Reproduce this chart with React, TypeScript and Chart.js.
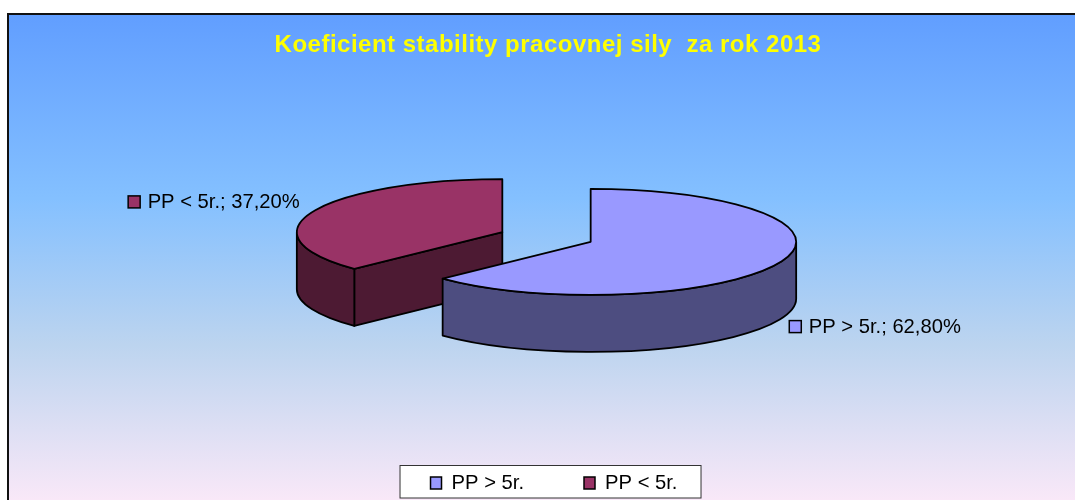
import React, { useEffect, useRef } from "react";
import { Chart, registerables } from "chart.js";

Chart.register(...registerables);

const categories = ["PP > 5r.", "PP < 5r."];
const shares = [62.8, 37.2];
const topColors = ["#9999FF", "#993366"];
const wallColors = ["#4D4D80", "#4D1A33"];
const titleText = "Koeficient stability pracovnej sily  za rok 2013";

const FONT = "'Liberation Sans', Arial, sans-serif";
const TILT = 0.258;
const DEPTH = 57;
const EXPLODE = 48;
const OUTLINE = "#000000";

function geometry(arc: any) {
  const mid = (arc.startAngle + arc.endAngle) / 2;
  const r = arc.outerRadius;
  const cx = arc.x + Math.cos(mid) * EXPLODE;
  const cy = arc.y + Math.sin(mid) * EXPLODE * TILT;
  return { cx, cy, r, ry: r * TILT, start: arc.startAngle, end: arc.endAngle, mid };
}

function drawWalls(ctx: CanvasRenderingContext2D, arc: any, color: string) {
  const g = geometry(arc);
  ctx.fillStyle = color;
  ctx.strokeStyle = OUTLINE;
  ctx.lineWidth = 1.8;
  ctx.lineJoin = "round";
  const radial = (a: number) => {
    const x = g.cx + g.r * Math.cos(a);
    const y = g.cy + g.ry * Math.sin(a);
    ctx.beginPath();
    ctx.moveTo(g.cx, g.cy);
    ctx.lineTo(x, y);
    ctx.lineTo(x, y + DEPTH);
    ctx.lineTo(g.cx, g.cy + DEPTH);
    ctx.closePath();
    ctx.fill();
    ctx.stroke();
  };
  if (Math.cos(g.start) < -1e-6) radial(g.start);
  if (Math.cos(g.end) > 1e-6) radial(g.end);
  const a0 = Math.max(g.start, 0);
  const a1 = Math.min(g.end, Math.PI);
  if (a1 > a0) {
    ctx.beginPath();
    ctx.ellipse(g.cx, g.cy, g.r, g.ry, 0, a0, a1, false);
    ctx.ellipse(g.cx, g.cy + DEPTH, g.r, g.ry, 0, a1, a0, true);
    ctx.closePath();
    ctx.fill();
    ctx.stroke();
  }
}

function drawTop(ctx: CanvasRenderingContext2D, arc: any) {
  const g = geometry(arc);
  ctx.save();
  ctx.translate(g.cx, g.cy);
  ctx.scale(1, TILT);
  ctx.translate(-arc.x, -arc.y);
  arc.draw(ctx);
  ctx.restore();
  ctx.beginPath();
  ctx.moveTo(g.cx, g.cy);
  ctx.ellipse(g.cx, g.cy, g.r, g.ry, 0, g.start, g.end, false);
  ctx.closePath();
  ctx.strokeStyle = OUTLINE;
  ctx.lineWidth = 1.8;
  ctx.lineJoin = "round";
  ctx.stroke();
}

const pie3d = {
  id: "pie3d",
  afterLayout(chart: any) {
    const cx = 546.5;
    const cy = 237;
    const r = 205.5;
    chart.chartArea = {
      left: cx - r,
      right: cx + r,
      top: cy - r,
      bottom: cy + r,
      width: 2 * r,
      height: 2 * r,
    };
    const lg = chart.legend;
    const shift = 413 - lg.top;
    lg.top += shift;
    lg.bottom += shift;
    lg.left += 6;
    lg.right += 6;
    (lg.legendHitBoxes || []).forEach((b: any) => {
      b.top += shift;
      b.left += 6;
    });
    const tb = chart.titleBlock;
    if (tb && !tb.__spaced) {
      tb.__spaced = true;
      const draw = tb.draw.bind(tb);
      tb.draw = (...a: any[]) => {
        const ctx = chart.ctx;
        ctx.letterSpacing = "0.5px";
        draw(...a);
        ctx.letterSpacing = "0px";
      };
    }
  },
  beforeDraw(chart: any) {
    const { ctx, width, height } = chart;
    ctx.save();
    ctx.fillStyle = "#FFFFFF";
    ctx.fillRect(0, 0, width, height);
    const grad = ctx.createLinearGradient(0, 14, 0, 500);
    grad.addColorStop(0, "#619EFF");
    grad.addColorStop(0.38, "#84C0FF");
    grad.addColorStop(0.68, "#BCD4EF");
    grad.addColorStop(1, "#F9E8F8");
    ctx.fillStyle = grad;
    ctx.fillRect(8, 14, width, height);
    ctx.strokeStyle = "#111111";
    ctx.lineWidth = 2;
    ctx.beginPath();
    ctx.moveTo(8, height);
    ctx.lineTo(8, 14);
    ctx.lineTo(width, 14);
    ctx.stroke();
    const boxes = chart.legend.legendHitBoxes;
    const bx0 = boxes[0].left - 30.5;
    const bx1 = bx0 + 301;
    ctx.fillStyle = "#FFFFFF";
    ctx.fillRect(bx0, 465.5, bx1 - bx0, 32.5);
    ctx.strokeStyle = "#333333";
    ctx.lineWidth = 1;
    ctx.strokeRect(bx0, 465.5, bx1 - bx0, 32.5);
    ctx.restore();
  },
  beforeDatasetDraw(chart: any, args: any) {
    const { ctx } = chart;
    const arcs = args.meta.data;
    ctx.save();
    for (let i = arcs.length - 1; i >= 0; i--) {
      drawWalls(ctx, arcs[i], wallColors[i]);
      drawTop(ctx, arcs[i]);
    }
    ctx.restore();
    return false;
  },
  afterDatasetsDraw(chart: any) {
    const { ctx } = chart;
    const arcs = chart.getDatasetMeta(0).data;
    ctx.save();
    ctx.font = `20.2px ${FONT}`;
    ctx.textBaseline = "middle";
    arcs.forEach((arc: any, i: number) => {
      const g = geometry(arc);
      const ex = g.cx + g.r * Math.cos(g.mid);
      const ey = g.cy + g.ry * Math.sin(g.mid);
      const text = `${categories[i]}; ${shares[i].toFixed(2).replace(".", ",")}%`;
      const w = ctx.measureText(text).width;
      const right = Math.cos(g.mid) > 0;
      const front = Math.sin(g.mid) > 0;
      const keyX = right ? ex + 9.5 : ex - 13 - w - 20;
      const y = front ? ey + DEPTH + 7 : ey - 9.5;
      ctx.fillStyle = topColors[i];
      ctx.strokeStyle = OUTLINE;
      ctx.lineWidth = 1.5;
      ctx.fillRect(keyX, y - 6, 12, 12);
      ctx.strokeRect(keyX, y - 6, 12, 12);
      ctx.fillStyle = "#000000";
      ctx.textAlign = "left";
      ctx.fillText(text, keyX + 19.5, y + 1);
    });
    ctx.restore();
  },
};

export default function App() {
  const ref = useRef<HTMLCanvasElement | null>(null);
  useEffect(() => {
    if (!ref.current) return;
    const chart = new Chart(ref.current, {
      type: "pie",
      data: {
        labels: categories,
        datasets: [
          {
            data: shares,
            backgroundColor: topColors,
            borderWidth: 0,
            hoverOffset: 0,
            clip: false,
          } as any,
        ],
      },
      options: {
        responsive: false,
        animation: false,
        layout: { padding: { left: 21, top: 14 } },
        plugins: {
          tooltip: { enabled: false },
          title: {
            display: true,
            text: titleText,
            color: "#FFFF00",
            font: { family: FONT, size: 24, weight: "bold" },
            padding: { top: 17, bottom: 10 },
          },
          legend: {
            display: true,
            position: "bottom",
            labels: {
              color: "#000000",
              font: { family: FONT, size: 20.2 },
              boxWidth: 11,
              boxHeight: 12,
              padding: 60,
              generateLabels(c: any) {
                const base = (Chart as any).overrides.doughnut.plugins.legend.labels.generateLabels(c);
                return base.map((item: any) => ({
                  ...item,
                  strokeStyle: OUTLINE,
                  lineWidth: 1.5,
                }));
              },
            },
          },
        },
      },
      plugins: [pie3d],
    } as any);
    return () => chart.destroy();
  }, []);
  return (
    <div style={{ position: "fixed", left: 0, top: 0, width: 1075, height: 500 }}>
      <canvas ref={ref} width={1075} height={500} style={{ display: "block", width: 1075, height: 500 }} />
    </div>
  );
}
